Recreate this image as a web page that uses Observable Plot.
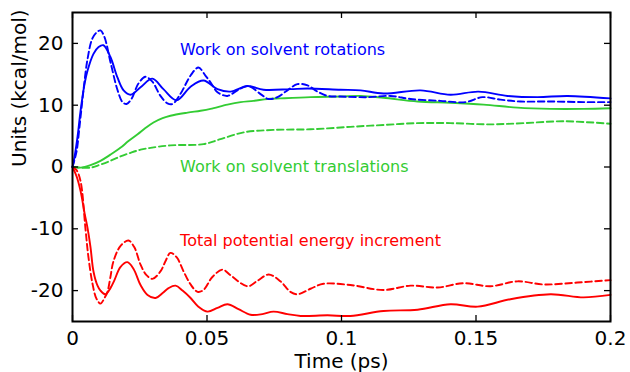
<!DOCTYPE html>
<html><head><meta charset="utf-8">
<script src="https://cdn.jsdelivr.net/npm/d3@7"></script>
<script src="https://cdn.jsdelivr.net/npm/@observablehq/plot@0.6"></script>
<style>
html,body{margin:0;padding:0;background:#fff}
#chart svg{display:block;font-family:"DejaVu Sans",sans-serif}
</style>
</head><body><div id="chart"></div>
<script>
// Time (ps) and values (kcal/mol)
const rotSolidT = [0,0.0007,0.0019,0.003,0.0045,0.0056,0.0078,0.0097,0.0115,0.0141,0.0167,0.019,0.0216,0.0253,0.0297,0.0338,0.0387,0.0439,0.0487,0.0539,0.0587,0.0651,0.071,0.081,0.0874,0.0996,0.1071,0.1156,0.1294,0.1405,0.1509,0.1617,0.1729,0.184,0.2];
const rotSolidV = [0,1.5,5.0,9.1,13.5,15.6,18.3,19.4,19.7,17.8,14.5,12.4,11.7,12.9,14.3,12.6,10.8,13.0,14.0,12.6,12.2,13.1,12.5,12.6,12.7,12.5,12.4,11.9,12.4,11.7,12.2,11.5,11.3,11.5,11.1];

const rotDashT = [0,0.0015,0.0026,0.0041,0.0056,0.0074,0.0093,0.0104,0.0119,0.0141,0.0167,0.0186,0.0201,0.0219,0.0245,0.0271,0.0297,0.0327,0.0353,0.0372,0.0401,0.0439,0.0468,0.0494,0.0513,0.0539,0.0576,0.0613,0.0654,0.0699,0.0729,0.0762,0.0799,0.0836,0.0874,0.0911,0.0948,0.0996,0.1097,0.1182,0.1257,0.1368,0.1461,0.1524,0.1591,0.1665,0.1777,0.19,0.2];
const rotDashV = [0,2.5,6.5,12.5,17.5,20.8,21.9,22.1,21.0,17.0,12.5,10.5,10.2,11.0,13.5,14.6,13.8,11.5,10.3,10.2,11.8,14.8,16.1,14.8,13.7,12.1,11.5,12.4,13.1,11.8,11.0,11.3,12.4,13.4,13.2,12.2,11.5,11.4,11.3,11.5,11.0,10.7,10.5,11.3,10.9,10.6,10.6,10.5,10.5];

const transSolidT = [0,0.003,0.0067,0.0104,0.0141,0.0178,0.0208,0.0242,0.0271,0.0301,0.0335,0.0364,0.0428,0.0476,0.0513,0.0576,0.0625,0.0673,0.0725,0.0773,0.0885,0.0996,0.1071,0.1156,0.1283,0.1405,0.1528,0.1654,0.1777,0.19,0.2];
const transSolidV = [0,-0.1,0.3,1.0,2.0,3.1,4.2,5.3,6.3,7.2,7.9,8.3,8.8,9.1,9.4,10.1,10.5,10.7,11.0,11.1,11.3,11.4,11.5,11.2,10.6,10.4,10.1,9.6,9.4,9.4,9.5];

const transDashT = [0,0.0067,0.0104,0.0141,0.0178,0.0216,0.0253,0.029,0.0364,0.0487,0.055,0.0636,0.0747,0.0885,0.1033,0.1156,0.1283,0.1405,0.1554,0.1677,0.1825,0.2];
const transDashV = [0,-0.1,0.4,1.0,1.7,2.3,2.8,3.1,3.5,3.7,4.5,5.6,6.0,6.1,6.5,6.8,7.1,7.1,6.9,7.1,7.4,7.0];

const totSolidT = [0,0.0015,0.003,0.0045,0.0056,0.0067,0.0078,0.0093,0.0104,0.0123,0.0141,0.0156,0.0178,0.0204,0.0227,0.0253,0.0279,0.0309,0.0335,0.0357,0.0383,0.0409,0.0439,0.0468,0.0502,0.0539,0.0576,0.0617,0.0662,0.0706,0.0747,0.0799,0.0848,0.0948,0.1033,0.1156,0.1283,0.1405,0.1506,0.1628,0.1777,0.19,0.2];
const totSolidV = [0,-1.5,-3.9,-7.5,-9.9,-13.0,-16.9,-19.2,-20.0,-20.6,-19.6,-18.3,-16.2,-15.4,-16.5,-19.1,-20.7,-21.2,-20.4,-19.6,-19.2,-20.0,-21.2,-22.6,-23.4,-22.8,-22.2,-23.0,-23.9,-23.8,-23.4,-23.8,-24.1,-24.0,-24.1,-23.3,-23.1,-22.2,-22.6,-21.4,-20.6,-21.1,-20.7];

const totDashT = [0,0.0015,0.003,0.0048,0.0059,0.0074,0.0089,0.0104,0.0119,0.013,0.0141,0.0152,0.0178,0.0208,0.023,0.0253,0.0275,0.0297,0.0327,0.0346,0.0364,0.0387,0.0413,0.0439,0.0465,0.0487,0.052,0.0558,0.0587,0.0651,0.0688,0.0729,0.0773,0.081,0.0836,0.0885,0.0933,0.1033,0.1156,0.1257,0.1357,0.1454,0.1554,0.1654,0.1751,0.1877,0.2];
const totDashV = [0,-0.5,-2.3,-9.9,-14.5,-18.8,-21.3,-22.1,-21.2,-20.2,-17.8,-15.3,-12.8,-11.9,-13.0,-15.8,-17.5,-18.1,-16.9,-15.2,-13.9,-14.6,-16.9,-19.0,-20.2,-19.9,-17.8,-16.6,-17.5,-19.3,-18.4,-17.4,-18.5,-20.2,-20.6,-19.7,-18.9,-19.1,-19.9,-19.2,-19.5,-18.8,-19.3,-18.5,-19.0,-18.7,-18.3];

const xTicks = [0, 0.05, 0.1, 0.15, 0.2];
const xTickLabels = ["0", "0.05", "0.1", "0.15", "0.2"];
const yTicks = [-20, -10, 0, 10, 20];
const yTickLabels = ["-20", "-10", "0", "10", "20"];

const seriesLabels = ["Work on solvent rotations", "Work on solvent translations", "Total potential energy increment"];
const labelX = [0.04, 0.04, 0.04];
const labelY = [19.0, 0.1, -11.9];
const seriesColors = ["#0000ff", "#33cc33", "#ff0000"];
const xTitle = "Time (ps)";
const yTitle = "Units (kcal/mol)";

const pts = (T, V) => T.map((t, i) => ({t, v: V[i]}));
const labelData = seriesLabels.map((s, i) => ({s, x: labelX[i], y: labelY[i], c: seriesColors[i]}));

const lineOpt = (color, dashed) => ({x: "t", y: "v", stroke: color, strokeWidth: 1.9, curve: "catmull-rom", strokeDasharray: dashed ? "6.5,3.5" : null});

const chart = Plot.plot({
  width: 630, height: 372,
  marginLeft: 72, marginRight: 20, marginTop: 12, marginBottom: 51,
  style: {fontFamily: "DejaVu Sans", background: "#fff", overflow: "visible"},
  x: {domain: [0, 0.2]},
  y: {domain: [-25, 25]},
  marks: [
    Plot.line(pts(transDashT, transDashV), lineOpt(seriesColors[1], true)),
    Plot.line(pts(transSolidT, transSolidV), lineOpt(seriesColors[1], false)),
    Plot.line(pts(totDashT, totDashV), lineOpt(seriesColors[2], true)),
    Plot.line(pts(totSolidT, totSolidV), lineOpt(seriesColors[2], false)),
    Plot.line(pts(rotDashT, rotDashV), lineOpt(seriesColors[0], true)),
    Plot.line(pts(rotSolidT, rotSolidV), lineOpt(seriesColors[0], false)),
    // inward ticks on all four sides
    Plot.tickX(xTicks, {x: d => d, insetTop: 303, stroke: "black", strokeWidth: 1.3}),
    Plot.tickX(xTicks, {x: d => d, insetBottom: 303, stroke: "black", strokeWidth: 1.3}),
    Plot.tickY(yTicks, {y: d => d, insetRight: 532, stroke: "black", strokeWidth: 1.3}),
    Plot.tickY(yTicks, {y: d => d, insetLeft: 532, stroke: "black", strokeWidth: 1.3}),
    Plot.frame({stroke: "black", strokeWidth: 2}),
    Plot.axisX(xTicks, {anchor: "bottom", tickSize: 0, tickPadding: 9, fontSize: 20, fill: "black", label: null,
      tickFormat: d => xTickLabels[xTicks.indexOf(d)]}),
    Plot.axisY(yTicks, {anchor: "left", tickSize: 0, tickPadding: 9, fontSize: 20, fill: "black", label: null,
      tickFormat: d => yTickLabels[yTicks.indexOf(d)]}),
    Plot.text(labelData, {x: "x", y: "y", text: "s", fill: "c", textAnchor: "start", lineAnchor: "middle", fontSize: 16}),
    Plot.text([xTitle], {text: d => d, frameAnchor: "bottom", dy: 40, lineAnchor: "middle", fontSize: 20, fill: "black"}),
    Plot.text([yTitle], {text: d => d, frameAnchor: "left", dx: -53, rotate: -90, lineAnchor: "middle", fontSize: 20, fill: "black"})
  ]
});
document.getElementById("chart").appendChild(chart);
</script>
</body></html>
